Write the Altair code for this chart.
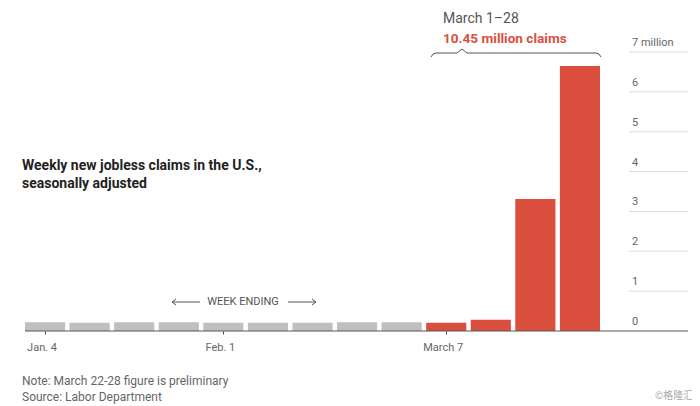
import altair as alt
import pandas as pd

weeks = ["Jan. 4", "Jan. 11", "Jan. 18", "Jan. 25", "Feb. 1", "Feb. 8", "Feb. 15",
         "Feb. 22", "Feb. 29", "March 7", "March 14", "March 21", "March 28"]
claims = [0.22, 0.21, 0.22, 0.22, 0.21, 0.21, 0.21, 0.22, 0.22, 0.21, 0.28, 3.31, 6.65]
period = ["before"] * 9 + ["march"] * 4
label_weeks = ["Jan. 4", "Feb. 1", "March 7"]
y_ticks = [0, 1, 2, 3, 4, 5, 6, 7]
y_labels = ["0", "1", "2", "3", "4", "5", "6", "7 million"]

GRAY = "#c1bfbd"
RED = "#da4f3e"
TXT = "#666666"
FONT = "Roboto"

df = pd.DataFrame({"week": weeks, "claims": claims, "period": period})
ydom = alt.Scale(domain=[0, 7], nice=False, zero=True)

bars = alt.Chart(df).mark_bar().encode(
    x=alt.X("week:N", sort=weeks,
            scale=alt.Scale(range=[0, 575], paddingInner=0.1, paddingOuter=0),
            axis=alt.Axis(values=label_weeks, title=None, labelAngle=0, domain=False,
                          ticks=True, tickSize=3, tickColor="#444", labelFontSize=11,
                          labelColor=TXT, labelFont=FONT, labelPadding=7, grid=False,
                          labelOffset=-3)),
    y=alt.Y("claims:Q", scale=ydom, axis=None),
    color=alt.Color("period:N", scale=alt.Scale(domain=["before", "march"], range=[GRAY, RED]),
                    legend=None),
)

gdf = pd.DataFrame({"v": y_ticks, "lab": y_labels})
grid = alt.Chart(gdf[gdf.v > 0]).mark_rule(color="#dddddd", strokeWidth=1).encode(
    y=alt.Y("v:Q", scale=ydom, axis=None), x=alt.value(604), x2=alt.value(663))
ylabels = alt.Chart(gdf).mark_text(align="left", baseline="bottom", dy=-4, fontSize=11,
                                   color=TXT, font=FONT).encode(
    y=alt.Y("v:Q", scale=ydom, axis=None), x=alt.value(607), text="lab:N")
baseline = alt.Chart(gdf[gdf.v == 0]).mark_rule(color="#555555", strokeWidth=1).encode(
    y=alt.Y("v:Q", scale=ydom, axis=None), x=alt.value(0), x2=alt.value(663))


def txt(s, x, y, size=12, color=TXT, weight="normal", align="left", font=FONT, baseline_="alphabetic"):
    return alt.Chart(pd.DataFrame({"t": [s]})).mark_text(
        align=align, baseline=baseline_, fontSize=size, color=color, fontWeight=weight, font=font
    ).encode(text="t:N", x=alt.value(x), y=alt.value(y))


def seg(x1, y1, x2, y2, color="#555555", w=1):
    return alt.Chart(pd.DataFrame({"a": [0]})).mark_rule(color=color, strokeWidth=w).encode(
        x=alt.value(x1), y=alt.value(y1), x2=alt.value(x2), y2=alt.value(y2))


texts = [
    txt("Weekly new jobless claims in the U.S.,", -3, 118, size=14, color="#222222", weight="bold"),
    txt("seasonally adjusted", -3, 136, size=14, color="#222222", weight="bold"),
    txt("March 1\u201328", 418, -29, size=14, color="#555555"),
    txt("10.45 million claims", 418, -9, size=13.6, color=RED, weight="bold"),
    txt("WEEK ENDING", 218, 250, size=11, color="#555555", align="center", baseline_="middle"),
    txt("Note: March 22-28 figure is preliminary", -3, 333, size=12, color=TXT),
    txt("Source: Labor Department", -3, 349, size=12, color=TXT),
    txt("\u00a9\u683c\u9686\u6c47", 630, 347, size=10, color="#aaaaaa", font="Noto Sans CJK SC"),
]

brace = [
    seg(406, 5, 408, 2), seg(408, 2, 411, 1), seg(411, 1, 432, 1),
    seg(432, 1, 437, -3), seg(437, -3, 442, 1), seg(442, 1, 571, 1),
    seg(571, 1, 574, 2), seg(574, 2, 576, 5),
]
arrows = [
    seg(147, 250, 175, 250), seg(147, 250, 151, 247), seg(147, 250, 151, 253),
    seg(263, 250, 291, 250), seg(291, 250, 287, 247), seg(291, 250, 287, 253),
]

chart = alt.layer(bars, grid, baseline, ylabels, *texts, *brace, *arrows).properties(
    width=663, height=279,
    autosize=alt.AutoSizeParams(type="none"),
    padding={"left": 17, "top": 44, "right": 4, "bottom": 75},
    background="white",
).configure_view(stroke=None)

chart.save("out.html", embed_options={"renderer": "svg", "actions": False})
